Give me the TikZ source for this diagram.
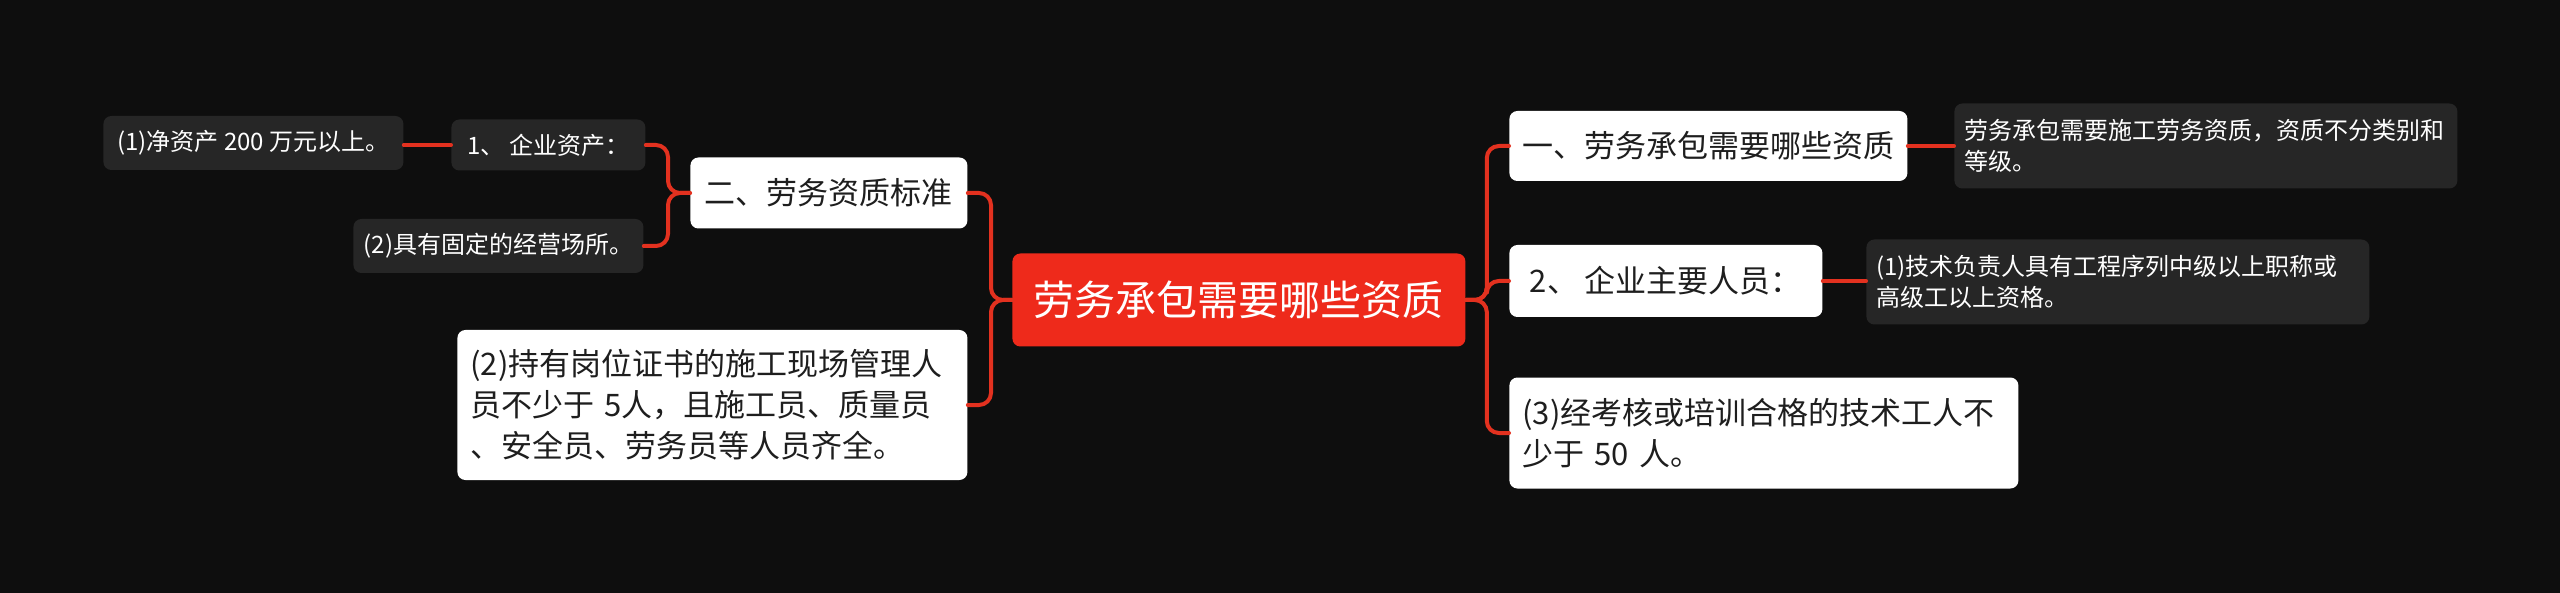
\documentclass[tikz,border=0pt]{standalone}
\usepackage{fontspec}
\setmainfont{Noto Sans CJK SC}
\usepackage{tikz}

\definecolor{bgdark}{HTML}{0E0E0E}
\definecolor{rootred}{HTML}{EE2A1B}
\definecolor{linkred}{HTML}{E3311F}
\definecolor{leafgray}{HTML}{262626}
\definecolor{inktext}{HTML}{1E1E1E}

\begin{document}
\begin{tikzpicture}[
			x=0.5pt, y=-0.5pt,
			line cap=round,
			line join=round,
			rootbox/.style={fill=rootred, text=white, rounded corners=4pt, anchor=west,
				font=\fontsize{20.5pt}{24pt}\selectfont, inner sep=0pt, align=center},
			topicbox/.style={fill=white, text=inktext, rounded corners=4pt, anchor=west,
				font=\fontsize{15.5pt}{20.5pt}\selectfont, inner xsep=6.5pt, inner ysep=0pt, align=left},
			leafbox/.style={fill=leafgray, text=white, rounded corners=4pt, anchor=west,
				font=\fontsize{12pt}{15.5pt}\selectfont, inner xsep=5pt, inner ysep=0pt, align=left},
			link/.style={draw=linkred, line width=2pt, rounded corners=6pt}
			]
			% Background
			\fill[bgdark] (0,0) rectangle (2560,593);
			\useasboundingbox (0,0) rectangle (2560,593);
			
			% Root
			\node[rootbox, minimum width=226.5pt, minimum height=46.5pt] (root) at (1012,300) {劳务承包需要哪些资质};
			
			% Right side
			\node[topicbox, minimum width=199pt, minimum height=35pt] (one) at (1509,146) {一、劳务承包需要哪些资质};
			\node[leafbox, text width=241.5pt, minimum height=42.5pt] (oneleaf) at (1954,146)
				{劳务承包需要施工劳务资质，资质不分类别和\\等级。};
			\node[topicbox, minimum width=156.5pt, minimum height=36pt] (staff) at (1509,281) {2、 企业主要人员：};
			\node[leafbox, text width=241.5pt, minimum height=42.5pt] (staffleaf) at (1866,282)
				{(1)技术负责人具有工程序列中级以上职称或\\高级工以上资格。};
			\node[topicbox, text width=241.5pt, minimum height=55.5pt] (workers) at (1509,433)
				{(3)经考核或培训合格的技术工人不\\少于 50 人。};
			
			% Left side
			\node[topicbox, minimum width=138.5pt, minimum height=35.5pt] (two) at (690,193) {二、劳务资质标准};
			\node[leafbox, minimum width=97pt, minimum height=25.5pt] (assets) at (451,145) {1、 企业资产：};
			\node[leafbox, minimum width=150pt, minimum height=27pt] (netassets) at (103,143) {(1)净资产 200 万元以上。};
			\node[leafbox, minimum width=145pt, minimum height=27pt] (place) at (353,246) {(2)具有固定的经营场所。};
			\node[topicbox, text width=242pt, minimum height=75pt] (managers) at (457,405)
				{(2)持有岗位证书的施工现场管理人\\员不少于 5人，且施工员、质量员\\、安全员、劳务员等人员齐全。};
			
			% Connectors
			\draw[link] (root.east) -- ++(21,0) |- (one.west);
			\draw[link] (root.east) -- ++(21,0) |- (staff.west);
			\draw[link] (root.east) -- ++(21,0) |- (workers.west);
			\draw[link] (one.east) -- (one.east -| oneleaf.west);
			\draw[link] (staff.east) -- (staff.east -| staffleaf.west);
			\draw[link] (root.west) -- ++(-21,0) |- (two.east);
			\draw[link] (root.west) -- ++(-21,0) |- (managers.east);
			\draw[link] (two.west) -- ++(-22,0) |- (assets.east);
			\draw[link] (two.west) -- ++(-22,0) |- (place.east);
			\draw[link] (assets.west) -- (assets.west -| netassets.east);
		\end{tikzpicture}
\end{document}
